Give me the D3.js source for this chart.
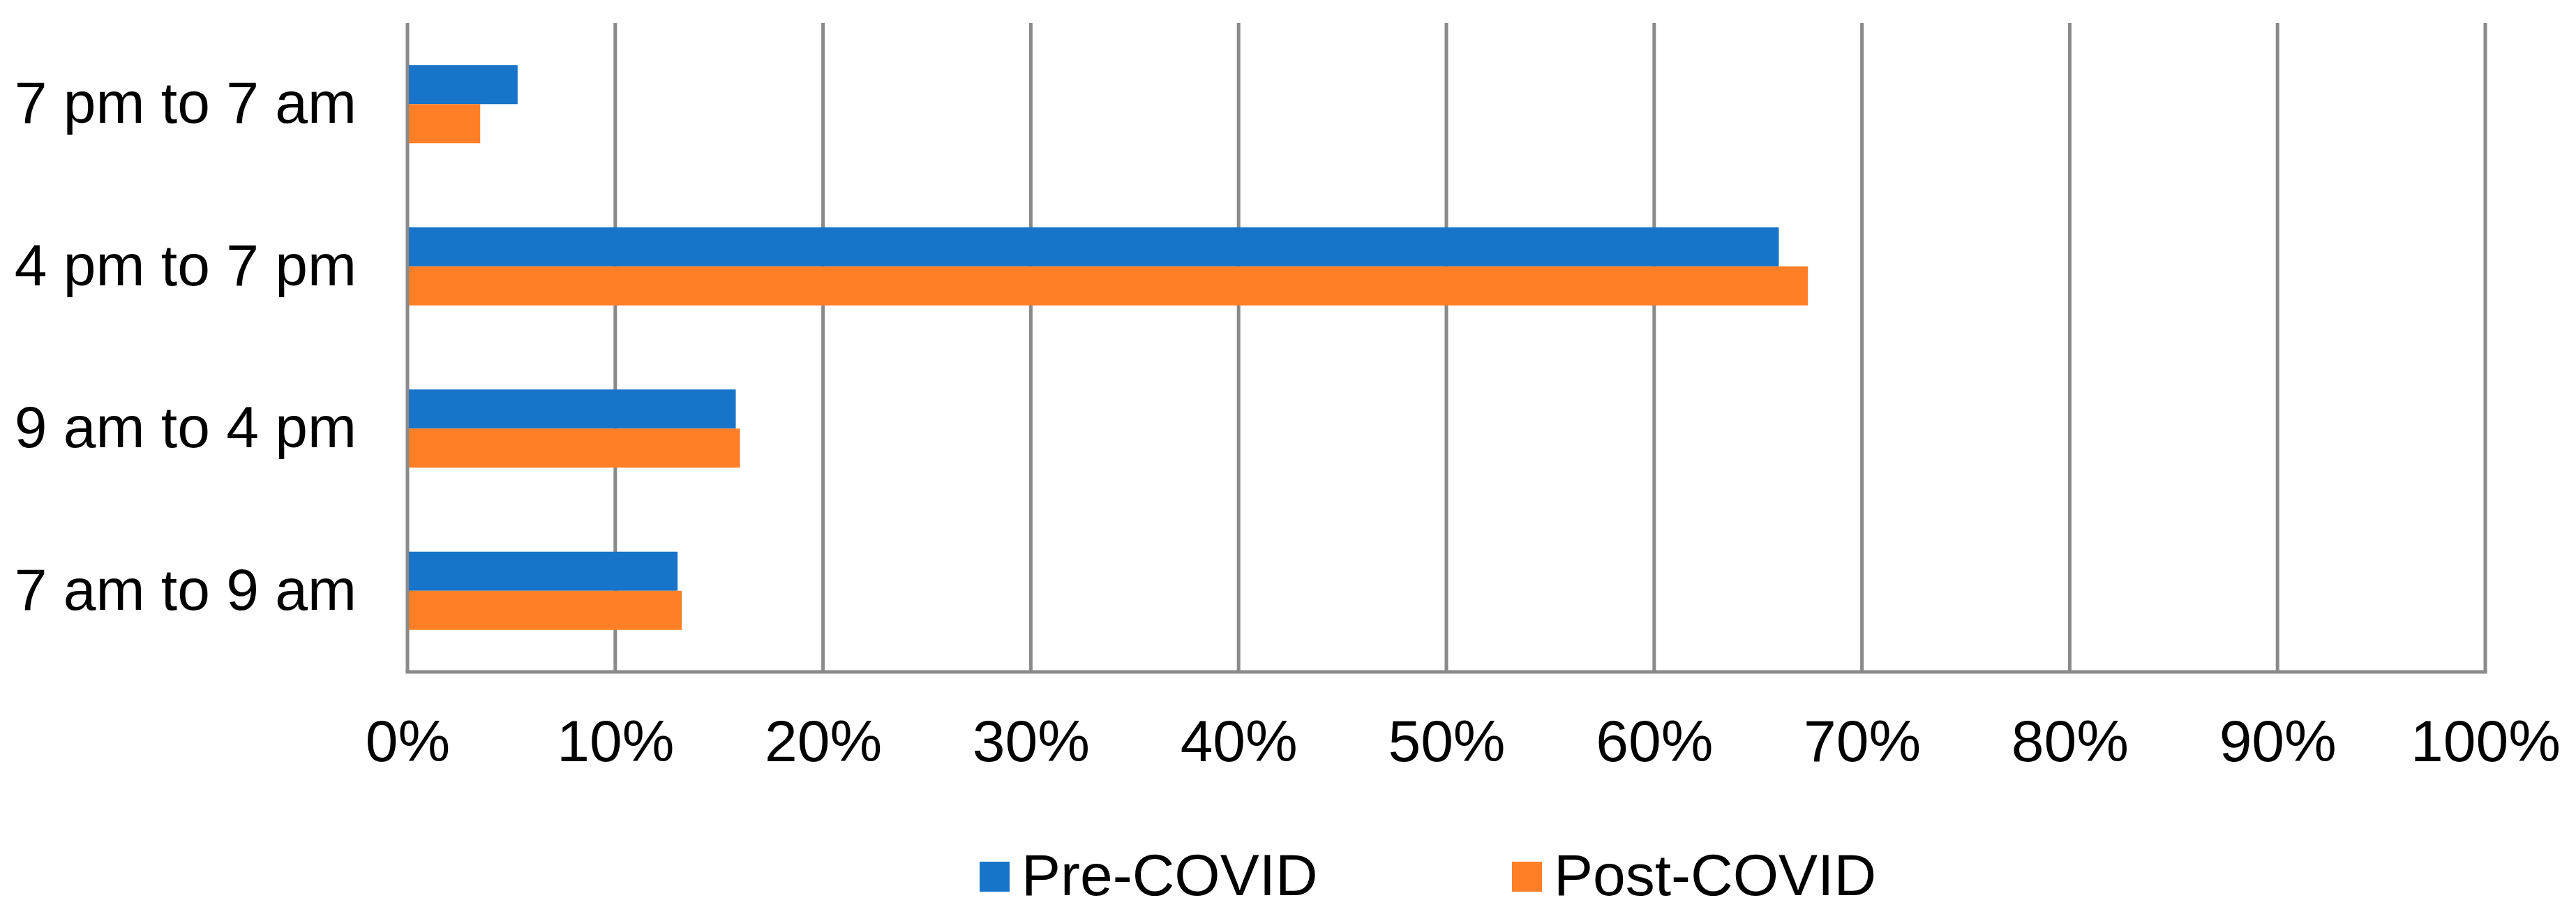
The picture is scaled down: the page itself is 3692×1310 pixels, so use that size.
<!DOCTYPE html>
<html>
<head>
<meta charset="utf-8">
<script src="https://cdn.jsdelivr.net/npm/d3@7"></script>
<style>
  html, body { margin: 0; padding: 0; background: #ffffff; }
  svg { display: block; }
  text { font-family: "Liberation Sans", Arial, sans-serif; fill: #000; }
</style>
</head>
<body>
<svg id="chart" width="3692" height="1310"></svg>
<script>
// Data
const categories = ["7 pm to 7 am", "4 pm to 7 pm", "9 am to 4 pm", "7 am to 9 am"];
const seriesNames = ["Pre-COVID", "Post-COVID"];
const preCovid  = [5.3, 66.0, 15.8, 13.0];
const postCovid = [3.5, 67.4, 16.0, 13.2];
const tickValues = [0, 10, 20, 30, 40, 50, 60, 70, 80, 90, 100];
const colors = ["#1874c8", "#ff7f27"];

const svg = d3.select("#chart");
const plot = { left: 584, right: 3562, top: 33, bottom: 963 };
const gridColor = "#8a8a8a";
const fontSize = 84;

const x = d3.scaleLinear().domain([0, 100]).range([plot.left, plot.right]);
const y = d3.scaleBand().domain(categories).range([plot.top, plot.bottom])
  .paddingInner(0.518).paddingOuter(0.259);
const ySub = d3.scaleBand().domain(seriesNames).range([0, y.bandwidth()]);

// Gridlines (vertical)
svg.append("g").selectAll("line").data(tickValues).join("line")
  .attr("x1", d => x(d)).attr("x2", d => x(d))
  .attr("y1", plot.top).attr("y2", plot.bottom)
  .attr("stroke", gridColor).attr("stroke-width", 5);

// Bars
const rows = categories.map((c, i) => ({ cat: c, vals: [preCovid[i], postCovid[i]] }));
const g = svg.append("g");
rows.forEach(r => {
  r.vals.forEach((v, j) => {
    g.append("rect")
      .attr("x", x(0) + 2)
      .attr("y", y(r.cat) + ySub(seriesNames[j]))
      .attr("width", x(v) - x(0) - 2)
      .attr("height", ySub.bandwidth())
      .attr("fill", colors[j]);
  });
});

// Bottom axis line
svg.append("line")
  .attr("x1", plot.left - 2.5).attr("x2", plot.right + 2.5)
  .attr("y1", plot.bottom).attr("y2", plot.bottom)
  .attr("stroke", gridColor).attr("stroke-width", 5);

// X axis tick labels
const xAxis = d3.axisBottom(x).tickValues(tickValues).tickFormat(d => d + "%").tickSize(0).tickPadding(0);
const xg = svg.append("g").attr("transform", `translate(0, ${plot.bottom})`).call(xAxis);
xg.select(".domain").remove();
xg.selectAll("text")
  .attr("y", 1091 - plot.bottom).attr("dy", null)
  .style("font-size", fontSize + "px")
  .style("font-family", '"Liberation Sans", Arial, sans-serif')
  .attr("fill", "#000");

// Y axis category labels
const yAxis = d3.axisLeft(y).tickSize(0).tickPadding(0);
const yg = svg.append("g").attr("transform", `translate(${plot.left - 73}, 0)`).call(yAxis);
yg.select(".domain").remove();
yg.selectAll("text")
  .attr("x", 0).attr("dy", null).attr("y", 27)
  .style("font-size", fontSize + "px")
  .style("font-family", '"Liberation Sans", Arial, sans-serif')
  .attr("fill", "#000");

// Legend
const legendItems = [
  { name: seriesNames[0], color: colors[0], mx: 1404 },
  { name: seriesNames[1], color: colors[1], mx: 2167 }
];
const lg = svg.append("g");
legendItems.forEach(it => {
  lg.append("rect").attr("x", it.mx).attr("y", 1235).attr("width", 43).attr("height", 43).attr("fill", it.color);
  lg.append("text").attr("x", it.mx + 60).attr("y", 1283)
    .style("font-size", fontSize + "px").text(it.name);
});
</script>
</body>
</html>
